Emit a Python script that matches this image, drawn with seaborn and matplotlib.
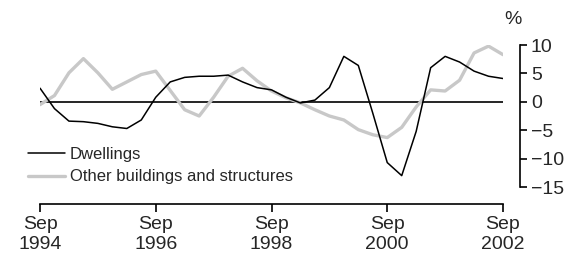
import matplotlib
matplotlib.use("Agg")
import matplotlib.pyplot as plt
import seaborn as sns
import pandas as pd
import numpy as np
from matplotlib.lines import Line2D

quarters = ["Sep 1994", "Dec 1994", "Mar 1995", "Jun 1995", "Sep 1995", "Dec 1995", "Mar 1996", "Jun 1996",
            "Sep 1996", "Dec 1996", "Mar 1997", "Jun 1997", "Sep 1997", "Dec 1997", "Mar 1998", "Jun 1998",
            "Sep 1998", "Dec 1998", "Mar 1999", "Jun 1999", "Sep 1999", "Dec 1999", "Mar 2000", "Jun 2000",
            "Sep 2000", "Dec 2000", "Mar 2001", "Jun 2001", "Sep 2001", "Dec 2001", "Mar 2002", "Jun 2002",
            "Sep 2002"]
dwellings = [2.4, -1.2, -3.4, -3.5, -3.8, -4.4, -4.7, -3.2,
             0.8, 3.5, 4.3, 4.5, 4.5, 4.7, 3.5, 2.5,
             2.1, 0.8, -0.2, 0.3, 2.5, 8.0, 6.4, -2.0,
             -10.7, -13.0, -5.2, 6.0, 8.0, 7.0, 5.4, 4.5,
             4.1]
other = [-0.5, 1.1, 5.1, 7.6, 5.1, 2.2, 3.5, 4.8,
         5.4, 2.0, -1.4, -2.5, 0.8, 4.5, 5.9, 3.7,
         1.9, 0.7, -0.2, -1.4, -2.5, -3.2, -4.9, -5.8,
         -6.3, -4.5, -0.9, 2.1, 1.9, 3.8, 8.6, 9.8,
         8.3]
tick_labels = ["Sep\n1994", "Sep\n1996", "Sep\n1998", "Sep\n2000", "Sep\n2002"]
y_ticks = [-15, -10, -5, 0, 5, 10]
series_names = ["Dwellings", "Other buildings and structures"]

sns.set_style("white")
plt.rcParams['font.family'] = ['Liberation Sans', 'DejaVu Sans']

idx = np.arange(len(quarters))
df = pd.DataFrame({
    "q": np.concatenate([idx, idx]),
    "value": dwellings + other,
    "series": [series_names[0]] * len(idx) + [series_names[1]] * len(idx),
})

fig = plt.figure(figsize=(5.73, 2.59), dpi=100)
ax = fig.add_axes([40 / 573, 1 - 187 / 259, (503 - 40) / 573, (187 - 45) / 259])

ax.axhline(0, color="black", lw=1.2, zorder=1)
sns.lineplot(data=df, x="q", y="value", hue="series", style="series",
             palette={series_names[0]: "black", series_names[1]: "#c8c8c8"},
             size="series", sizes={series_names[0]: 1.1, series_names[1]: 2.4},
             dashes=False, ax=ax, legend=False, zorder=2)
ax.lines[-2].set_zorder(3)

ax.set_xlim(0, len(idx) - 1)
ax.set_ylim(-15, 10)
ax.yaxis.tick_right()
ax.set_xticks(idx[::8])
ax.set_xticklabels(tick_labels, linespacing=1.05)
ax.set_yticks(y_ticks)
ax.set_yticklabels([str(t).replace("-", "\u2212") for t in y_ticks])
ax.set_xlabel("")
ax.set_ylabel("")

for s in ["top", "left"]:
    ax.spines[s].set_visible(False)
ax.spines["right"].set_position(("outward", 12))
ax.spines["bottom"].set_position(("outward", 12))
for s in ["right", "bottom"]:
    ax.spines[s].set_color("black")
    ax.spines[s].set_linewidth(1.2)
ax.tick_params(axis="x", bottom=True, direction="out", length=6, width=1.2, color="black", pad=3,
               labelsize=14)
ax.tick_params(axis="y", right=True, left=False, direction="out", length=5, width=1.2, color="black", pad=3,
               labelsize=14, labelright=True, labelleft=False)

fig.text(513 / 573, 1 - 19 / 259, "%", fontsize=14, ha="center", va="center")

handles = [Line2D([], [], color="black", lw=1.1), Line2D([], [], color="#c8c8c8", lw=2.4)]
fig.legend(handles, series_names, loc="upper left", bbox_to_anchor=(28 / 573, 1 - 147 / 259),
           frameon=False, fontsize=12, handlelength=2.2, handletextpad=0.3, labelspacing=0.45,
           borderaxespad=0, borderpad=0)

fig.savefig("out.png", dpi=100)
